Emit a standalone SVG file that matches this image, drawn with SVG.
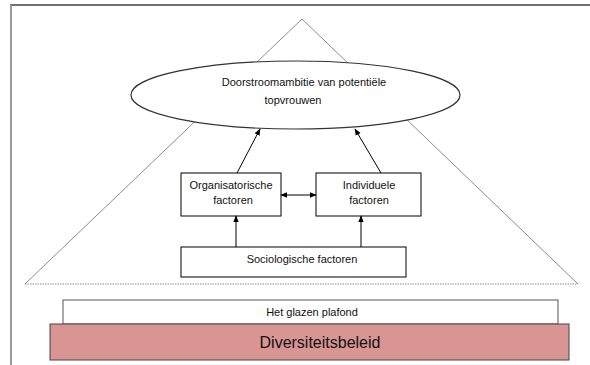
<svg xmlns="http://www.w3.org/2000/svg" width="590" height="365" viewBox="0 0 590 365">
<defs>
<style>
.t{font-family:"Liberation Sans",Arial,sans-serif;font-size:11px;fill:#111;text-anchor:middle}
.box{fill:#fff;stroke:#000;stroke-width:1}
.con{stroke:#000;stroke-width:1;fill:none}
.tri{stroke:#8c8c8c;stroke-width:1;fill:none}
</style>
<marker id="ah" viewBox="0 0 10 10" refX="9" refY="5" markerWidth="7" markerHeight="7" orient="auto-start-reverse" markerUnits="userSpaceOnUse">
<path d="M0,1 L10,5 L0,9 z" fill="#000"/>
</marker>
</defs>
<rect x="0" y="0" width="590" height="365" fill="#fff"/>
<g id="frame">
<line x1="10" y1="5" x2="590" y2="5" stroke="#707070" stroke-width="2"/>
<line x1="11" y1="5" x2="11" y2="365" stroke="#9a9a9a" stroke-width="2"/>
</g>
<g id="pyramid">
<line class="tri" x1="302" y1="19" x2="25" y2="284"/>
<line class="tri" x1="302" y1="19" x2="578" y2="284"/>
<line x1="25" y1="284" x2="578" y2="284" stroke="#8c8c8c" stroke-width="1" stroke-dasharray="1.5,1"/>
</g>
<g id="ambitie">
<ellipse cx="295.5" cy="95" rx="164.5" ry="34" fill="#fff" stroke="#333" stroke-width="1.2"/>
<text class="t" x="304" y="86">Doorstroomambitie van potentiële</text>
<text class="t" x="293" y="104">topvrouwen</text>
</g>
<g id="organisatorisch">
<rect class="box" x="181" y="173" width="100" height="43"/>
<text class="t" x="231" y="189">Organisatorische</text>
<text class="t" x="233" y="204">factoren</text>
</g>
<g id="individueel">
<rect class="box" x="316" y="173" width="105" height="43"/>
<text class="t" x="369" y="189">Individuele</text>
<text class="t" x="369" y="204">factoren</text>
</g>
<g id="sociologisch">
<rect class="box" x="181" y="247" width="225" height="30"/>
<text class="t" x="302" y="263">Sociologische factoren</text>
</g>
<g id="plafond">
<rect x="63" y="300" width="495" height="24" fill="#fff" stroke="#555" stroke-width="1"/>
<text class="t" x="312" y="316">Het glazen plafond</text>
</g>
<g id="diversiteit">
<rect x="50" y="324" width="519" height="36" fill="#d99594" stroke="#444" stroke-width="1"/>
<text class="t" x="320" y="348" style="font-size:16px">Diversiteitsbeleid</text>
</g>
<g id="connectors">
<line class="con" x1="237" y1="173" x2="260" y2="129" marker-end="url(#ah)"/>
<line class="con" x1="381" y1="173" x2="355" y2="129" marker-end="url(#ah)"/>
<line class="con" x1="281" y1="195" x2="316" y2="195" marker-start="url(#ah)" marker-end="url(#ah)"/>
<line class="con" x1="236" y1="247" x2="236" y2="216" marker-end="url(#ah)"/>
<line class="con" x1="361" y1="247" x2="361" y2="216" marker-end="url(#ah)"/>
</g>
</svg>
